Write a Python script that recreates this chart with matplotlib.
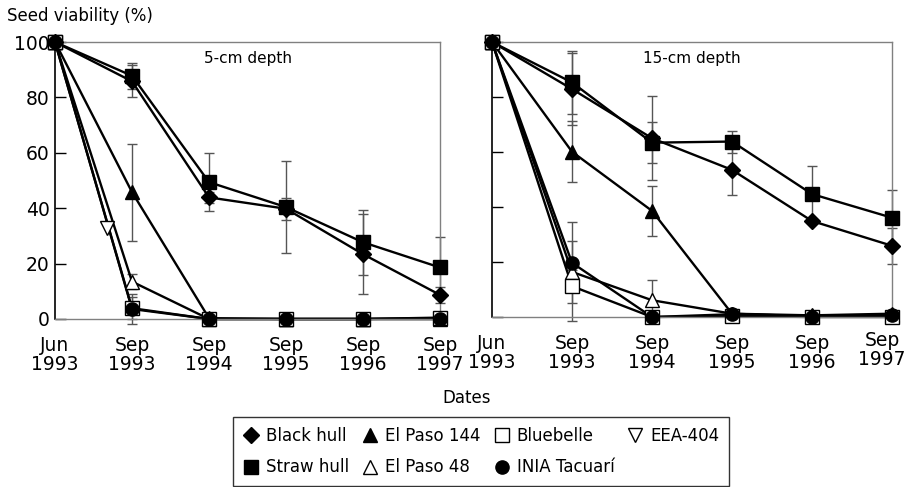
import matplotlib
matplotlib.use("Agg")
import matplotlib.pyplot as plt
from matplotlib.lines import Line2D
import matplotlib.transforms as mtransforms
import numpy as np

# sampling dates (equally spaced on the chart)
dates = ["Jun\n1993", "Sep\n1993", "Sep\n1994", "Sep\n1995", "Sep\n1996", "Sep\n1997"]

# 5-cm depth, seed viability (%)
black_5 = [100, 85.8, 43.9, 39.8, 23.4, 8.7]
straw_5 = [100, 87.8, 49.4, 40.4, 27.7, 18.6]
ep144_5 = [100, 45.8, 0.3, 0, 0, 0.3]
ep48_5 = [100, 13.5, 0, 0, 0, 0]
blue_5 = [100, 3.9, 0, 0, 0, 0.5]
inia_5 = [100, 3.6, 0, 0, 0, 0]
eea_x_5 = [0.68]
eea_5 = [33]

black_5_err = [0, 5.8, 2, 4, 14.5, 3]
straw_5_err = [0, 4.6, 10.5, 16.5, 11.7, 11]
ep144_5_err = [0, 17.5, 0, 0, 0, 0]
ep48_5_err = [0, 2.8, 0, 0, 0, 0]
blue_5_err = [0, 4, 0, 0, 0, 0]
inia_5_err = [0, 5.4, 0, 0, 0, 0]

# 15-cm depth
black_15 = [100, 82.9, 65.0, 53.5, 34.9, 25.9]
straw_15 = [100, 85.3, 63.4, 63.8, 44.7, 36.1]
ep144_15 = [100, 60.1, 38.6, 1.2, 0.6, 1.2]
ep48_15 = [100, 16.4, 6.1, 1.2, 0.2, 0.6]
blue_15 = [100, 11.2, 0, 0.3, 0, 0]
inia_15 = [100, 19.7, 0, 1.0, 0, 0.6]

black_15_err = [0, 13, 15.2, 9, 0, 6.5]
straw_15_err = [0, 11.5, 7.5, 4, 10.3, 10]
ep144_15_err = [0, 11, 9, 0, 0, 0]
ep48_15_err = [0, 18, 7.5, 0, 0, 0]
blue_15_err = [0, 6, 0, 0, 0, 0]
inia_15_err = [0, 8, 0, 0, 0, 0]

styles = {
    "Black hull": dict(marker="D", ms=8.5, mfc="black"),
    "Straw hull": dict(marker="s", ms=9.5, mfc="black"),
    "El Paso 144": dict(marker="^", ms=10, mfc="black"),
    "El Paso 48": dict(marker="^", ms=10.5, mfc="white"),
    "Bluebelle": dict(marker="s", ms=9.5, mfc="white"),
    "INIA Tacuarí": dict(marker="o", ms=9.5, mfc="black"),
    "EEA-404": dict(marker="v", ms=10.5, mfc="white"),
}

plt.rcParams["font.family"] = ["DejaVu Sans"]

fig = plt.figure(figsize=(9.13, 4.87), dpi=100)
ax1 = fig.add_axes([55 / 913, 1 - 319 / 487, 385 / 913, 277 / 487])
ax2 = fig.add_axes([492 / 913, 1 - 317 / 487, 400 / 913, 275 / 487])

x = np.arange(len(dates))


def draw_series(ax, name, vals, errs):
    vals = np.array(vals, dtype=float)
    errs = np.array(errs, dtype=float)
    m = errs > 0
    if m.any():
        ax.errorbar(x[m], vals[m], yerr=errs[m], fmt="none", ecolor="#555555",
                    elinewidth=1, capsize=3.5, capthick=1, zorder=1, clip_on=False)
    ax.plot(x, vals, color="black", lw=1.7, zorder=2, clip_on=False)
    st = styles[name]
    ax.plot(x, vals, ls="none", marker=st["marker"], ms=st["ms"], mfc=st["mfc"],
            mec="black", mew=1, zorder=3, clip_on=False)


panels = [
    (ax1, "5-cm depth", [("Black hull", black_5, black_5_err), ("Straw hull", straw_5, straw_5_err),
                         ("El Paso 144", ep144_5, ep144_5_err), ("El Paso 48", ep48_5, ep48_5_err),
                         ("Bluebelle", blue_5, blue_5_err), ("INIA Tacuarí", inia_5, inia_5_err)]),
    (ax2, "15-cm depth", [("Black hull", black_15, black_15_err), ("Straw hull", straw_15, straw_15_err),
                          ("El Paso 144", ep144_15, ep144_15_err), ("El Paso 48", ep48_15, ep48_15_err),
                          ("Bluebelle", blue_15, blue_15_err), ("INIA Tacuarí", inia_15, inia_15_err)]),
]

for ax, title, series in panels:
    for name, vals, errs in series:
        draw_series(ax, name, vals, errs)
    ax.set_xlim(0, 5)
    ax.set_ylim(0, 100)
    ax.set_xticks(x)
    ax.set_xticklabels(dates, fontsize=13.5, linespacing=1.05)
    ax.set_yticks([0, 20, 40, 60, 80, 100])
    ax.tick_params(axis="x", length=0, pad=12)
    ax.tick_params(axis="y", direction="in", length=8, width=1, labelsize=13.5, pad=4)
    for side in ["top", "right", "bottom"]:
        ax.spines[side].set_color("#808080")
        ax.spines[side].set_linewidth(1)
    ax.spines["left"].set_color("black")
    ax.spines["left"].set_linewidth(1.2)
    ax.text(0.5, 0.94, title, transform=ax.transAxes, ha="center", va="center", fontsize=11)

ax2.tick_params(axis="y", labelleft=False)

# last date label of the right panel sits a bit left and up in the original
last = ax2.get_xticklabels()[-1]
last.set_transform(last.get_transform() + mtransforms.ScaledTranslation(-10 / 100, 3 / 100, fig.dpi_scale_trans))

# EEA-404 only shows one marker in the 5-cm panel
st = styles["EEA-404"]
ax1.plot(eea_x_5, eea_5, ls="none", marker=st["marker"], ms=st["ms"], mfc=st["mfc"],
         mec="black", mew=1, zorder=3, clip_on=False)

fig.text(7 / 913, 1 - 16 / 487, "Seed viability (%)", fontsize=12, ha="left", va="center")
fig.text(467 / 913, 1 - 398 / 487, "Dates", fontsize=12, ha="center", va="center")

order = ["Black hull", "Straw hull", "El Paso 144", "El Paso 48", "Bluebelle", "INIA Tacuarí", "EEA-404"]
handles = [Line2D([], [], ls="none", marker=styles[n]["marker"], ms=styles[n]["ms"],
                  mfc=styles[n]["mfc"], mec="black", mew=1) for n in order]
leg = fig.legend(handles, order, ncol=4, loc="upper left", bbox_to_anchor=(233 / 913, 1 - 417 / 487),
                 borderaxespad=0, frameon=True, fancybox=False, edgecolor="black", fontsize=12,
                 handlelength=1.0, handletextpad=0.4, columnspacing=0.75, labelspacing=0.8,
                 borderpad=0.6)
leg.get_frame().set_linewidth(1)

fig.savefig("out.png", dpi=100)
